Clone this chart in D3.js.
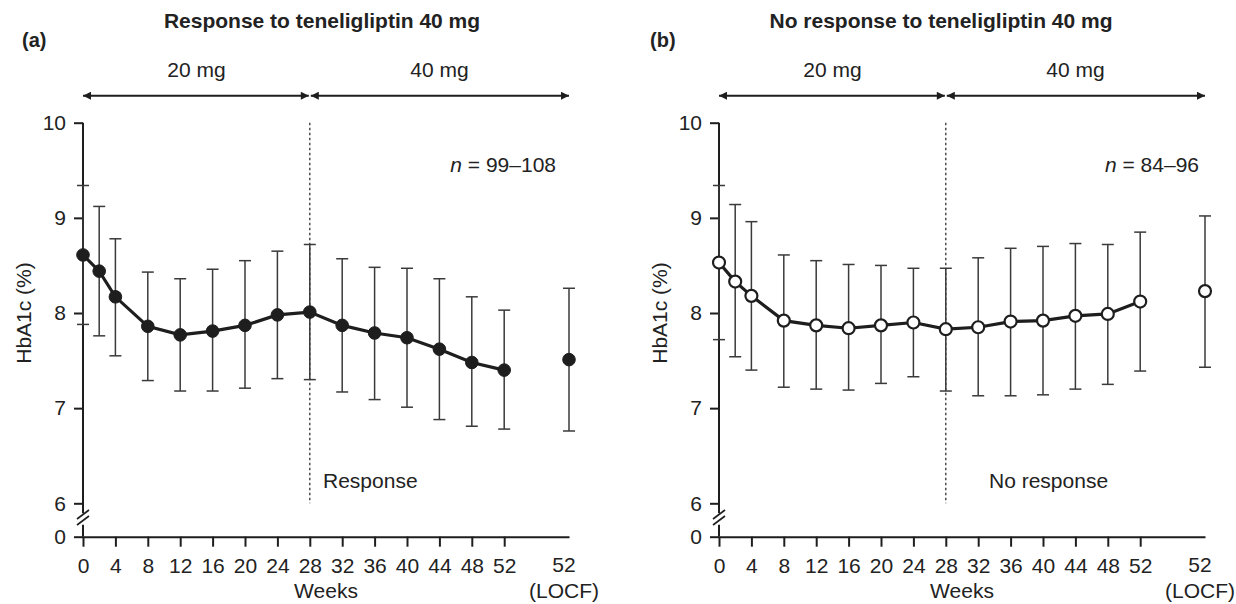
<!DOCTYPE html>
<html lang="en">
<head>
	<meta charset="utf-8">
<style>
body {
	margin: 0;
	background: #fff;
}
svg {
	display: block;
	font-family: "Liberation Sans", Arial, Helvetica, sans-serif;
}
text {
	fill: #222;
}
</style>
<title>HbA1c teneligliptin 20 mg to 40 mg</title>
<script type="text/javascript" src="https://cdn.jsdelivr.net/npm/d3@7"></script>
</head>
<body>
<script type="text/javascript">

// visit weeks, the LOCF value sits at week 60 on the axis
var weeks = [0, 2, 4, 8, 12, 16, 20, 24, 28, 32, 36, 40, 44, 48, 52];
var locfWeek = 60;
var weekTicks = [0, 4, 8, 12, 16, 20, 24, 28, 32, 36, 40, 44, 48, 52];
var hbTicks = [0, 6, 7, 8, 9, 10];

// (a) response to 40 mg : mean, mean+SD, mean-SD
var respMean  = [8.61, 8.44, 8.17, 7.86, 7.77, 7.81, 7.87, 7.98, 8.01, 7.87, 7.79, 7.74, 7.62, 7.48, 7.40];
var respUpper = [9.34, 9.12, 8.78, 8.43, 8.36, 8.46, 8.55, 8.65, 8.72, 8.57, 8.48, 8.47, 8.36, 8.17, 8.03];
var respLower = [7.88, 7.76, 7.55, 7.29, 7.18, 7.18, 7.21, 7.31, 7.30, 7.17, 7.09, 7.01, 6.88, 6.81, 6.78];
var respLocf  = [7.51, 8.26, 6.76];

// (b) no response to 40 mg
var noMean  = [8.53, 8.33, 8.18, 7.92, 7.87, 7.84, 7.87, 7.90, 7.83, 7.85, 7.91, 7.92, 7.97, 7.99, 8.12];
var noUpper = [9.34, 9.14, 8.96, 8.61, 8.55, 8.51, 8.50, 8.47, 8.47, 8.58, 8.68, 8.70, 8.73, 8.72, 8.85];
var noLower = [7.72, 7.54, 7.40, 7.22, 7.20, 7.19, 7.26, 7.33, 7.18, 7.13, 7.13, 7.14, 7.20, 7.25, 7.39];
var noLocf  = [8.23, 9.02, 7.43];

var width = 1236,
	height = 604,
	ink = "#1e1e1e";

var panels = [
	{ tag: "(a)", tagX: 22, title: "Response to teneligliptin 40 mg", titleX: 322,
	  left: 83, n: "99–108", nX: 556, note: "Response", noteX: 323, filled: true,
	  mean: respMean, upper: respUpper, lower: respLower, locf: respLocf },
	{ tag: "(b)", tagX: 650, title: "No response to teneligliptin 40 mg", titleX: 941,
	  left: 719, n: "84–96", nX: 1199, note: "No response", noteX: 989, filled: false,
	  mean: noMean, upper: noUpper, lower: noLower, locf: noLocf }
];

var svg = d3.select("body")
	.append("svg")
	.attr("width", width)
	.attr("height", height);

svg.append("defs")
	.append("marker")
	.attr("id", "head")
	.attr("viewBox", "0 0 10 10")
	.attr("refX", 10)
	.attr("refY", 5)
	.attr("markerUnits", "userSpaceOnUse")
	.attr("markerWidth", 9)
	.attr("markerHeight", 8)
	.attr("orient", "auto-start-reverse")
	.append("path")
	.attr("d", "M0,0L10,5L0,10z")
	.attr("fill", ink);

// y has a break between 0 and 6
var y = d3.scaleLinear().domain([0, 6, 10]).range([536.7, 503.3, 122.7]);

panels.forEach(drawPanel);

function drawPanel(p) {
	var x = d3.scaleLinear().domain([0, locfWeek]).range([p.left, p.left + 486]);
	var g = svg.append("g");

	g.append("text")
		.attr("x", p.tagX)
		.attr("y", 47)
		.style("font-size", "20px")
		.style("font-weight", "bold")
		.text(p.tag);

	g.append("text")
		.attr("x", p.titleX)
		.attr("y", 28)
		.attr("text-anchor", "middle")
		.style("font-size", "21px")
		.style("font-weight", "bold")
		.text(p.title);

	// dose periods
	var doses = [["20 mg", 0, 28], ["40 mg", 28, locfWeek]];
	doses.forEach(function(d, i) {
		g.append("line")
			.attr("x1", x(d[1]) + (i ? 1 : 0))
			.attr("x2", x(d[2]) - (i ? 0 : 1))
			.attr("y1", 95.7)
			.attr("y2", 95.7)
			.attr("stroke", ink)
			.attr("stroke-width", 2)
			.attr("marker-start", "url(#head)")
			.attr("marker-end", "url(#head)");
		g.append("text")
			.attr("x", (x(d[1]) + x(d[2])) / 2)
			.attr("y", 77)
			.attr("text-anchor", "middle")
			.style("font-size", "21px")
			.text(d[0]);
	});

	// switch at week 28
	g.append("line")
		.attr("x1", x(28))
		.attr("x2", x(28))
		.attr("y1", y(10))
		.attr("y2", y(6))
		.attr("stroke", "#333")
		.attr("stroke-width", 1.3)
		.attr("stroke-dasharray", "2.5,2.5");

	g.append("text")
		.attr("x", p.noteX)
		.attr("y", 487.7)
		.style("font-size", "21px")
		.text(p.note);

	var nLabel = g.append("text")
		.attr("x", p.nX)
		.attr("y", 172)
		.attr("text-anchor", "end")
		.style("font-size", "21px");
	nLabel.append("tspan").style("font-style", "italic").text("n");
	nLabel.append("tspan").text(" = " + p.n);

	// axes
	var xAxis = g.append("g")
		.attr("transform", "translate(0," + y(0) + ")")
		.call(d3.axisBottom(x).tickValues(weekTicks).tickSize(10).tickPadding(11).tickSizeOuter(0));
	xAxis.select(".domain").attr("stroke-width", 2).attr("stroke", ink);
	xAxis.selectAll(".tick line").attr("stroke-width", 2).attr("stroke", ink);
	xAxis.selectAll("text").style("font-size", "21px").attr("fill", "#222");
	xAxis.attr("font-family", null);

	var locfLabel = g.append("text")
		.attr("x", x(locfWeek) - 5)
		.attr("y", 572)
		.attr("text-anchor", "middle")
		.style("font-size", "21px");
	locfLabel.append("tspan").text("52");
	locfLabel.append("tspan").attr("x", x(locfWeek) - 5).attr("y", 598).text("(LOCF)");

	g.append("text")
		.attr("x", (x(0) + x(locfWeek)) / 2)
		.attr("y", 598)
		.attr("text-anchor", "middle")
		.style("font-size", "21px")
		.text("Weeks");

	var yAxis = g.append("g")
		.attr("transform", "translate(" + x(0) + ",0)")
		.call(d3.axisLeft(y).tickValues(hbTicks).tickSize(9).tickPadding(8));
	yAxis.select(".domain").remove();
	yAxis.selectAll(".tick line").attr("stroke-width", 2).attr("stroke", ink);
	yAxis.selectAll("text").style("font-size", "21px").attr("fill", "#222");
	yAxis.attr("font-family", null);

	// broken y axis line
	var ax = x(0);
	[[y(10), y(6) + 10], [y(0) - 12, y(0)]].forEach(function(s) {
		g.append("line")
			.attr("x1", ax).attr("x2", ax)
			.attr("y1", s[0]).attr("y2", s[1])
			.attr("stroke", ink)
			.attr("stroke-width", 2);
	});
	[514.5, 520.5].forEach(function(c) {
		g.append("line")
			.attr("x1", ax - 6).attr("x2", ax + 6)
			.attr("y1", c + 4.5).attr("y2", c - 4.5)
			.attr("stroke", ink)
			.attr("stroke-width", 1.6);
	});

	g.append("text")
		.attr("transform", "translate(" + (ax - 52) + "," + y(8) + ") rotate(-90)")
		.attr("text-anchor", "middle")
		.style("font-size", "21px")
		.text("HbA1c (%)");

	// points incl. LOCF
	var pts = weeks.map(function(w, i) {
		return { w: w, m: p.mean[i], hi: p.upper[i], lo: p.lower[i] };
	});
	pts.push({ w: locfWeek, m: p.locf[0], hi: p.locf[1], lo: p.locf[2] });

	var bars = g.append("g")
		.attr("stroke", "#3a3a3a")
		.attr("stroke-width", 1.5);
	pts.forEach(function(d) {
		bars.append("line").attr("x1", x(d.w)).attr("x2", x(d.w)).attr("y1", y(d.hi)).attr("y2", y(d.lo));
		[d.hi, d.lo].forEach(function(v) {
			bars.append("line").attr("x1", x(d.w) - 6).attr("x2", x(d.w) + 6).attr("y1", y(v)).attr("y2", y(v));
		});
	});

	var line = d3.line()
		.x(function(d) { return x(d.w); })
		.y(function(d) { return y(d.m); });

	g.append("path")
		.datum(pts.slice(0, weeks.length))
		.attr("d", line)
		.attr("fill", "none")
		.attr("stroke", ink)
		.attr("stroke-width", 3.2);

	g.selectAll("circle")
		.data(pts)
		.enter()
		.append("circle")
		.attr("cx", function(d) { return x(d.w); })
		.attr("cy", function(d) { return y(d.m); })
		.attr("r", p.filled ? 6.3 : 6)
		.attr("fill", p.filled ? ink : "#fff")
		.attr("stroke", ink)
		.attr("stroke-width", p.filled ? 1 : 2.2);
}

</script>
</body>
</html>
